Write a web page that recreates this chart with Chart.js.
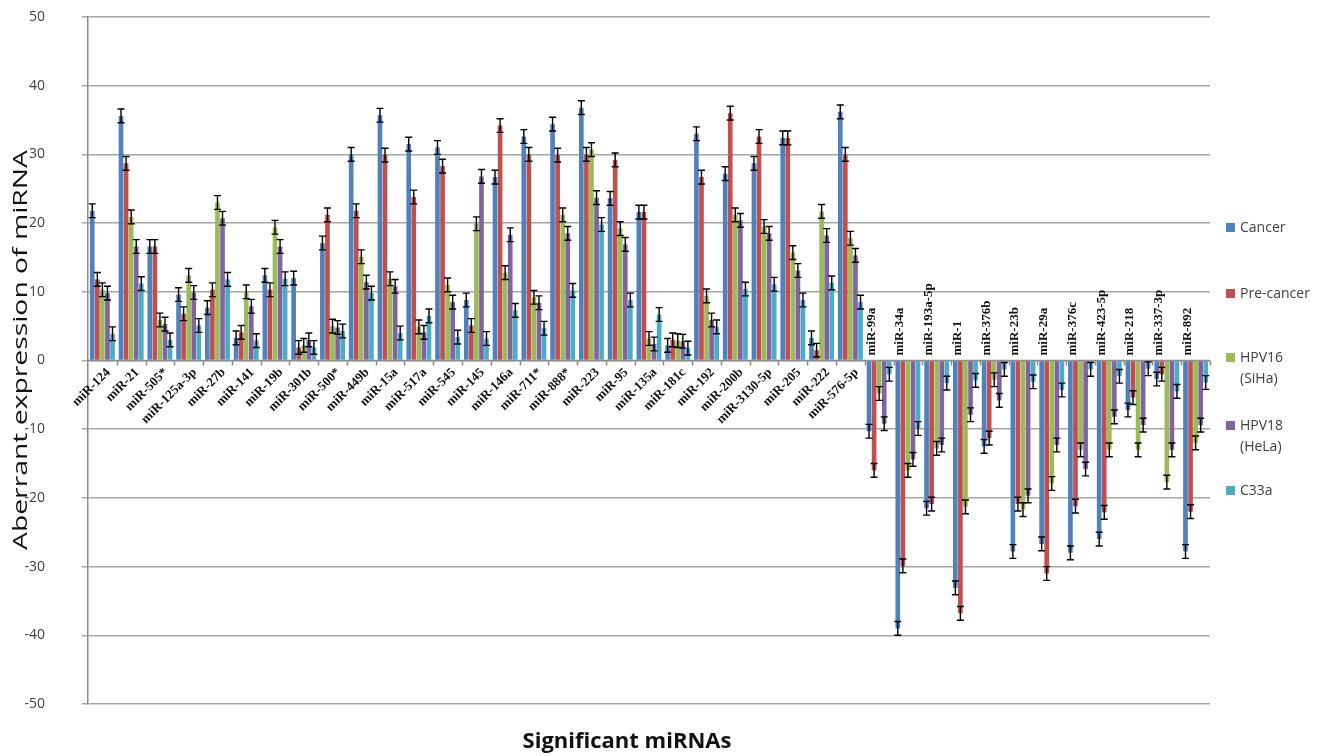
<!DOCTYPE html>
<html>
<head>
<meta charset="utf-8">
<script src="https://cdn.jsdelivr.net/npm/chart.js@4"></script>
<style>
  body { margin: 0; background: #fff; }
  #wrap { position: relative; width: 1338px; height: 756px; }
  .leg { position: absolute; left: 1226px; font: 14px "Open Sans", sans-serif; color: #404040; line-height: 21px; }
  .leg i { display: inline-block; width: 9px; height: 9px; margin-right: 5px; }
</style>
</head>
<body>
<div id="wrap">
  <canvas id="mirnaChart" width="1338" height="756"></canvas>
  <div class="leg" style="top:216px"><i style="background:#4F81BD"></i>Cancer</div>
  <div class="leg" style="top:282px"><i style="background:#C0504D"></i>Pre-cancer</div>
  <div class="leg" style="top:346px"><i style="background:#9BBB59"></i>HPV16<br><span style="margin-left:14px">(SiHa)</span></div>
  <div class="leg" style="top:414px"><i style="background:#8064A2"></i>HPV18<br><span style="margin-left:14px">(HeLa)</span></div>
  <div class="leg" style="top:479px"><i style="background:#4BACC6"></i>C33a</div>
</div>
<script>
const categories = ['miR-124', 'miR-21', 'miR-505*', 'miR-125a-3p', 'miR-27b', 'miR-141', 'miR-19b', 'miR-301b',
  'miR-500*', 'miR-449b', 'miR-15a', 'miR-517a', 'miR-545', 'miR-145', 'miR-146a', 'miR-711*', 'miR-888*',
  'miR-223', 'miR-95', 'miR-135a', 'miR-181c', 'miR-192', 'miR-200b', 'miR-3130-5p', 'miR-205', 'miR-222',
  'miR-576-5p', 'miR-99a', 'miR-34a', 'miR-193a-5p', 'miR-1', 'miR-376b', 'miR-23b', 'miR-29a', 'miR-376c',
  'miR-423-5p', 'miR-218', 'miR-337-3p', 'miR-892'];

const cancer = [21.8, 35.6, 16.6, 9.6, 7.7, 3.3, 12.4, 12.0, 17.1, 30.0, 35.7, 31.5, 31.0, 8.8, 26.7, 32.6, 34.4,
  36.8, 23.6, 21.6, 2.2, 33.0, 27.2, 28.7, 32.4, 3.3, 36.2,
  -10.3, -39.0, -21.5, -33.1, -12.5, -27.8, -26.7, -28.0, -26.0, -7.2, -2.7, -27.8];
const preCancer = [11.8, 28.7, 16.6, 6.8, 10.3, 4.1, 10.3, 1.9, 21.2, 21.8, 29.9, 23.8, 28.3, 5.1, 34.2, 30.0, 29.9,
  30.0, 29.2, 21.6, 3.0, 26.7, 36.0, 32.6, 32.4, 1.5, 30.0,
  -16.0, -29.9, -20.9, -36.8, -11.3, -20.9, -31.0, -21.2, -22.1, -5.4, -2.0, -22.0];
const hpv16 = [10.3, 20.9, 5.9, 12.4, 23.0, 10.0, 19.4, 2.2, 5.0, 15.1, 11.9, 4.9, 11.0, 19.9, 12.8, 9.2, 21.2,
  30.7, 19.2, 3.2, 2.9, 9.4, 21.2, 19.5, 15.7, 21.7, 17.8,
  -4.8, -16.0, -12.8, -21.3, -2.8, -21.7, -17.9, -13.0, -13.0, -13.0, -17.7, -12.0];
const hpv18 = [9.8, 16.6, 5.3, 9.9, 20.7, 7.9, 16.6, 3.0, 4.8, 11.4, 10.8, 4.1, 8.5, 26.8, 18.3, 8.4, 18.5,
  23.7, 16.9, 2.4, 2.8, 5.9, 20.4, 18.5, 13.1, 18.2, 15.3,
  -9.2, -14.4, -12.3, -7.9, -5.8, -19.7, -12.3, -15.8, -8.2, -9.4, -13.0, -9.4];
const c33a = [3.9, 11.2, 3.0, 5.1, 11.8, 2.9, 11.9, 1.9, 4.3, 9.8, 4.0, 6.5, 3.4, 3.2, 7.3, 4.7, 10.2,
  19.8, 8.8, 6.7, 1.8, 4.9, 10.4, 11.1, 8.8, 11.3, 8.5,
  -2.0, -9.9, -3.3, -2.9, -1.3, -3.1, -4.3, -1.3, -2.3, -1.2, -4.5, -3.2];
const errorSize = 1;
const yTicks = [50, 40, 30, 20, 10, 0, -10, -20, -30, -40, -50];

const seriesNames = ['Cancer', 'Pre-cancer', 'HPV16 (SiHa)', 'HPV18 (HeLa)', 'C33a'];
const seriesColors = ['#4F81BD', '#C0504D', '#9BBB59', '#8064A2', '#4BACC6'];
const seriesData = [cancer, preCancer, hpv16, hpv18, c33a];

// error bars + category labels + axis titles
const extras = {
  id: 'extras',
  afterDatasetsDraw(chart) {
    const c = chart.ctx, y = chart.scales.y, x = chart.scales.x;
    const area = chart.chartArea;
    c.save();
    // zero axis line with tick marks
    const y0 = y.getPixelForValue(0);
    c.strokeStyle = '#8c8c8c';
    c.lineWidth = 1.5;
    c.beginPath();
    c.moveTo(area.left, y0); c.lineTo(area.right, y0);
    const step = (area.right - area.left) / categories.length;
    for (let i = 1; i <= categories.length; i++) {
      const px = Math.round(area.left + i * step) + 0.5;
      c.moveTo(px, y0); c.lineTo(px, y0 + 5);
    }
    c.stroke();

    // error bars
    c.strokeStyle = '#000';
    c.lineWidth = 1.4;
    chart.data.datasets.forEach((ds, di) => {
      chart.getDatasetMeta(di).data.forEach((bar, i) => {
        const v = ds.data[i];
        const top = y.getPixelForValue(v + errorSize);
        const bot = y.getPixelForValue(v - errorSize);
        c.beginPath();
        c.moveTo(bar.x, top); c.lineTo(bar.x, bot);
        c.moveTo(bar.x - 3.5, top); c.lineTo(bar.x + 3.5, top);
        c.moveTo(bar.x - 3.5, bot); c.lineTo(bar.x + 3.5, bot);
        c.stroke();
      });
    });

    // category labels
    c.fillStyle = '#111';
    c.font = 'bold 13px "Liberation Serif", serif';
    categories.forEach((name, i) => {
      const cx = x.getPixelForValue(i);
      c.save();
      if (cancer[i] >= 0) {
        c.translate(cx + 6, y0 + 10);
        c.rotate(-Math.PI / 4);
        c.textAlign = 'right';
        c.textBaseline = 'middle';
      } else {
        c.translate(cx - 8, y0 - 5);
        c.rotate(-Math.PI / 2);
        c.textAlign = 'left';
        c.textBaseline = 'middle';
      }
      c.fillText(name, 0, 0);
      c.restore();
    });

    // axis titles
    c.fillStyle = '#111';
    c.font = 'bold 22px "Open Sans", sans-serif';
    c.textAlign = 'center';
    c.textBaseline = 'middle';
    c.fillText('Significant miRNAs', 627, 742);
    c.save();
    c.translate(21, 350);
    c.rotate(-Math.PI / 2);
    c.font = '20px "Open Sans", sans-serif';
    const yTitle = 'Aberrant expression of miRNA';
    const stretch = 400 / c.measureText(yTitle).width;
    c.scale(stretch, 1);
    c.fillText(yTitle, 0, 0);
    c.restore();
    c.restore();
  }
};

new Chart(document.getElementById('mirnaChart'), {
  type: 'bar',
  data: {
    labels: categories,
    datasets: seriesData.map((d, i) => ({
      label: seriesNames[i],
      data: d,
      backgroundColor: seriesColors[i],
      categoryPercentage: 0.88,
      barPercentage: 0.92
    }))
  },
  options: {
    responsive: false,
    animation: false,
    layout: { padding: { left: 0, right: 128, top: 17, bottom: 52 } },
    plugins: { legend: { display: false }, tooltip: { enabled: false } },
    scales: {
      x: { display: false },
      y: {
        min: -50, max: 50,
        afterFit(scale) {
          scale.width = 88;
          scale.paddingTop = 0;
          scale.paddingBottom = 0;
        },
        afterBuildTicks(scale) { scale.ticks = yTicks.map(v => ({ value: v })); },
        ticks: {
          padding: 37,
          color: '#404040',
          font: { family: '"Open Sans", sans-serif', size: 14 }
        },
        grid: { color: '#a6a6a6', lineWidth: 1.5, tickLength: 6 },
        border: { color: '#8c8c8c', width: 1.5 }
      }
    }
  },
  plugins: [extras]
});
</script>
</body>
</html>
